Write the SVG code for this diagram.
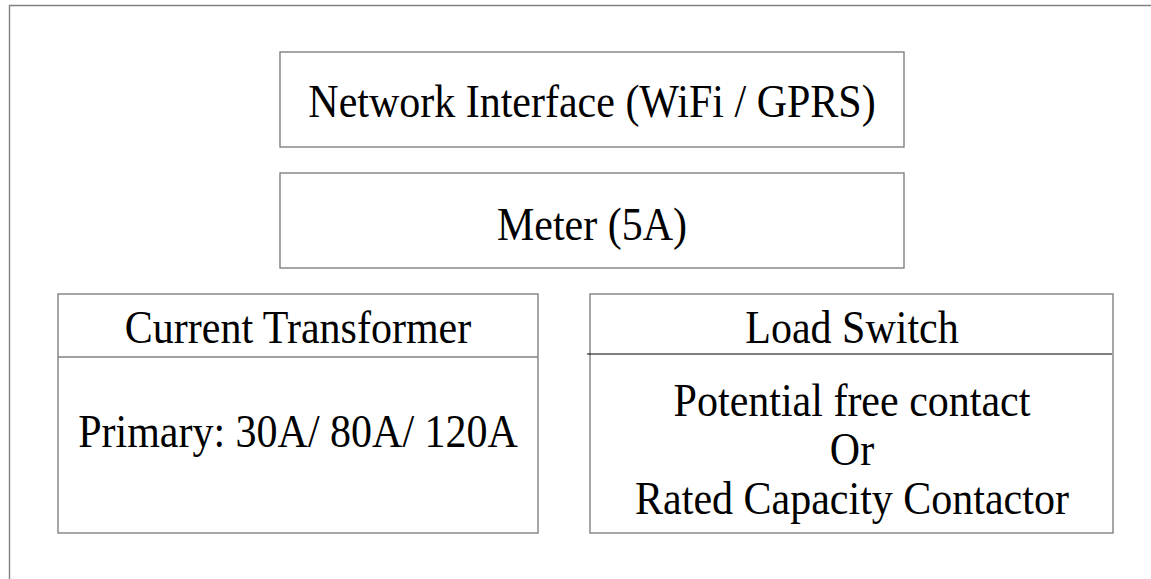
<svg xmlns="http://www.w3.org/2000/svg" width="1151" height="579" viewBox="0 0 1151 579">
<style>
.box{fill:#fff;stroke:#808080;stroke-width:1.4}
.frame{fill:none;stroke:#808080;stroke-width:1.4}
.div{stroke:#808080;stroke-width:1.4}
.divk{stroke:#000;stroke-width:1.2}
text{font-family:"Liberation Serif","Times New Roman",serif;font-size:42px;fill:#000;text-anchor:middle}
</style>
<rect x="0" y="0" width="1151" height="579" fill="#fff"/>
<g id="frame"><path class="frame" d="M9.5 579 V5.5 H1151"/></g>
<g id="network">
<rect class="box" x="280" y="52" width="624" height="95"/>
<text transform="translate(592 117) scale(1 1.08)">Network Interface (WiFi / GPRS)</text>
</g>
<g id="meter">
<rect class="box" x="280" y="173" width="624" height="95"/>
<text transform="translate(592 240) scale(1 1.08)">Meter (5A)</text>
</g>
<g id="ct">
<rect class="box" x="58" y="294" width="480" height="239"/>
<line class="div" x1="58" y1="357" x2="538" y2="357"/>
<text transform="translate(298 343) scale(1 1.08)">Current Transformer</text>
<text transform="translate(298 447) scale(1 1.08)">Primary: 30A/ 80A/ 120A</text>
</g>
<g id="loadswitch">
<rect class="box" x="590" y="294" width="523" height="239"/>
<line class="divk" x1="587" y1="354" x2="1112" y2="354"/>
<text transform="translate(852 343) scale(1 1.08)">Load Switch</text>
<text transform="translate(852 416) scale(1 1.08)">Potential free contact</text>
<text transform="translate(852 465) scale(1 1.08)">Or</text>
<text transform="translate(852 514) scale(1 1.08)">Rated Capacity Contactor</text>
</g>
<g id="connectors"></g>
</svg>
